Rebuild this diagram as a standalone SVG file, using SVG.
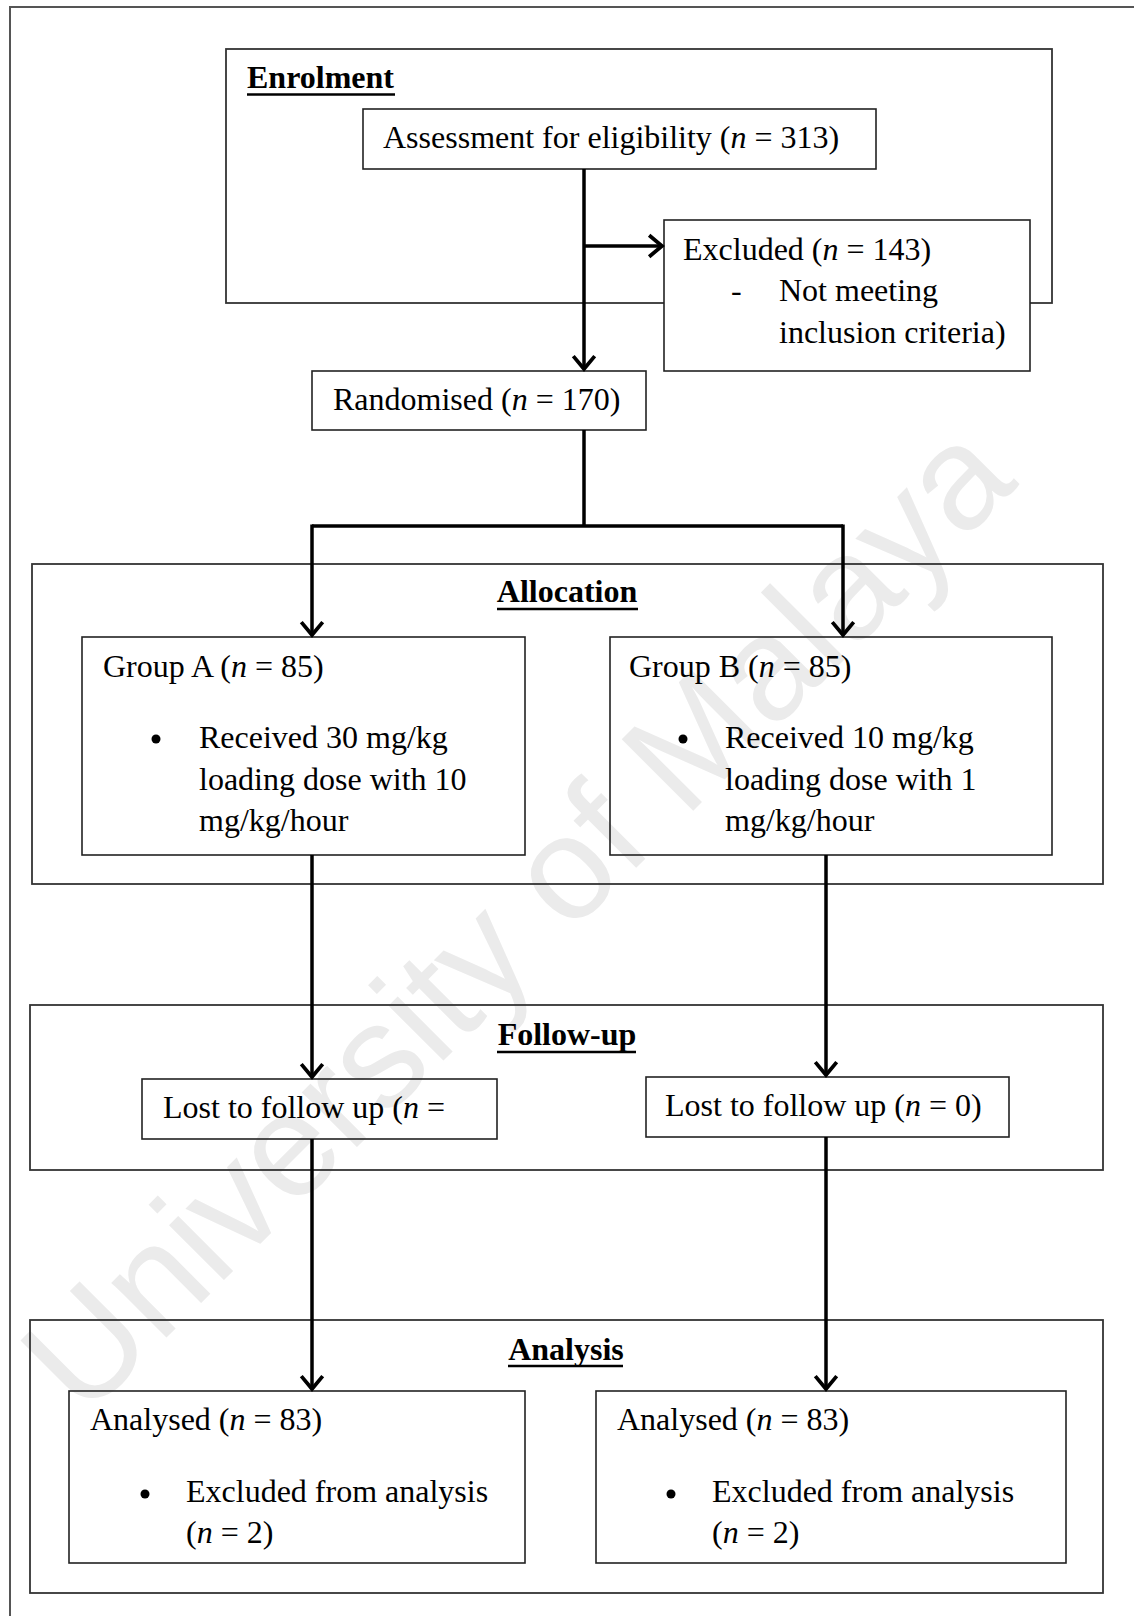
<svg xmlns="http://www.w3.org/2000/svg" width="1134" height="1616" viewBox="0 0 1134 1616">
<style>
.t{font-family:"Liberation Serif","Times New Roman",serif;font-size:32px;fill:#000}
.h{font-family:"Liberation Serif","Times New Roman",serif;font-size:32px;font-weight:bold;fill:#000}
.i{font-style:italic}
.box{fill:none;stroke:#222;stroke-width:1.6}
.sec{fill:none;stroke:#333;stroke-width:1.8}
.ul{stroke:#000;stroke-width:2.6}
.c{fill:none;stroke:#000;stroke-width:3.5}
.wm{font-family:"Liberation Sans",Arial,sans-serif;font-size:147px;fill:#ebebeb}
</style>
<defs>
<marker id="ah" markerUnits="userSpaceOnUse" markerWidth="30" markerHeight="30" viewBox="-16 -14 20 28" refX="0" refY="0" orient="auto">
<path d="M-12,-10 L0,0 L-12,10" fill="none" stroke="#000" stroke-width="3.5"/>
</marker>
</defs>
<rect width="1134" height="1616" fill="#fff"/>
<text class="wm" x="552" y="952" text-anchor="middle" transform="rotate(-45 552 952)">University of Malaya</text>
<path d="M10,1616 V7 H1134" fill="none" stroke="#555" stroke-width="2"/>

<g id="enrolment">
<rect class="sec" x="226" y="49" width="826" height="254"/>
<text class="h" x="247" y="88">Enrolment</text>
<line class="ul" x1="247" y1="94.5" x2="395" y2="94.5"/>
</g>
<g id="assessment">
<rect class="box" x="363" y="109" width="513" height="60" fill="#fff"/>
<text class="t" x="383" y="148">Assessment for eligibility (<tspan class="i">n</tspan> = 313)</text>
</g>
<g id="excluded">
<rect class="box" x="664" y="220" width="366" height="151" style="fill:#fff"/>
<text class="t" x="683" y="260">Excluded (<tspan class="i">n</tspan> = 143)</text>
<text class="t" x="731" y="301">-</text>
<text class="t" x="779" y="301">Not meeting</text>
<text class="t" x="779" y="343">inclusion criteria)</text>
</g>
<g id="randomised">
<rect class="box" x="312" y="371" width="334" height="59"/>
<text class="t" x="333" y="410">Randomised (<tspan class="i">n</tspan> = 170)</text>
</g>

<g id="allocation">
<rect class="sec" x="32" y="564" width="1071" height="320"/>
<text class="h" x="567" y="602" text-anchor="middle">Allocation</text>
<line class="ul" x1="497" y1="609" x2="638" y2="609"/>
</g>
<g id="groupA">
<rect class="box" x="82" y="637" width="443" height="218"/>
<text class="t" x="103" y="677">Group A (<tspan class="i">n</tspan> = 85)</text>
<circle cx="156" cy="739" r="4.5" fill="#000"/>
<text class="t" x="199" y="748">Received 30 mg/kg</text>
<text class="t" x="199" y="790">loading dose with 10</text>
<text class="t" x="199" y="831">mg/kg/hour</text>
</g>
<g id="groupB">
<rect class="box" x="610" y="637" width="442" height="218"/>
<text class="t" x="629" y="677">Group B (<tspan class="i">n</tspan> = 85)</text>
<circle cx="683" cy="739" r="4.5" fill="#000"/>
<text class="t" x="725" y="748">Received 10 mg/kg</text>
<text class="t" x="725" y="790">loading dose with 1</text>
<text class="t" x="725" y="831">mg/kg/hour</text>
</g>

<g id="followup">
<rect class="sec" x="30" y="1005" width="1073" height="165"/>
<text class="h" x="567" y="1045" text-anchor="middle">Follow-up</text>
<line class="ul" x1="497" y1="1052" x2="636" y2="1052"/>
</g>
<g id="lostA">
<rect class="box" x="142" y="1079" width="355" height="60"/>
<text class="t" x="163" y="1118">Lost to follow up (<tspan class="i">n</tspan> =</text>
</g>
<g id="lostB">
<rect class="box" x="646" y="1077" width="363" height="60"/>
<text class="t" x="665" y="1116">Lost to follow up (<tspan class="i">n</tspan> = 0)</text>
</g>

<g id="analysis">
<rect class="sec" x="30" y="1320" width="1073" height="273"/>
<text class="h" x="566" y="1360" text-anchor="middle">Analysis</text>
<line class="ul" x1="508" y1="1366" x2="623" y2="1366"/>
</g>
<g id="analysedA">
<rect class="box" x="69" y="1391" width="456" height="172"/>
<text class="t" x="90" y="1430">Analysed (<tspan class="i">n</tspan> = 83)</text>
<circle cx="145" cy="1494" r="4.5" fill="#000"/>
<text class="t" x="186" y="1502">Excluded from analysis</text>
<text class="t" x="186" y="1543">(<tspan class="i">n</tspan> = 2)</text>
</g>
<g id="analysedB">
<rect class="box" x="596" y="1391" width="470" height="172"/>
<text class="t" x="617" y="1430">Analysed (<tspan class="i">n</tspan> = 83)</text>
<circle cx="671" cy="1494" r="4.5" fill="#000"/>
<text class="t" x="712" y="1502">Excluded from analysis</text>
<text class="t" x="712" y="1543">(<tspan class="i">n</tspan> = 2)</text>
</g>

<g id="connectors">
<path class="c" d="M584,169 V369" marker-end="url(#ah)"/>
<path class="c" d="M584,246 H662" marker-end="url(#ah)"/>
<path class="c" d="M584,430 V526"/>
<path class="c" d="M312,526 H843"/>
<path class="c" d="M312,524.5 V635" marker-end="url(#ah)"/>
<path class="c" d="M843,524.5 V635" marker-end="url(#ah)"/>
<path class="c" d="M312,855 V1077" marker-end="url(#ah)"/>
<path class="c" d="M826,855 V1075" marker-end="url(#ah)"/>
<path class="c" d="M312,1139 V1389" marker-end="url(#ah)"/>
<path class="c" d="M826,1137 V1389" marker-end="url(#ah)"/>
</g>
</svg>
